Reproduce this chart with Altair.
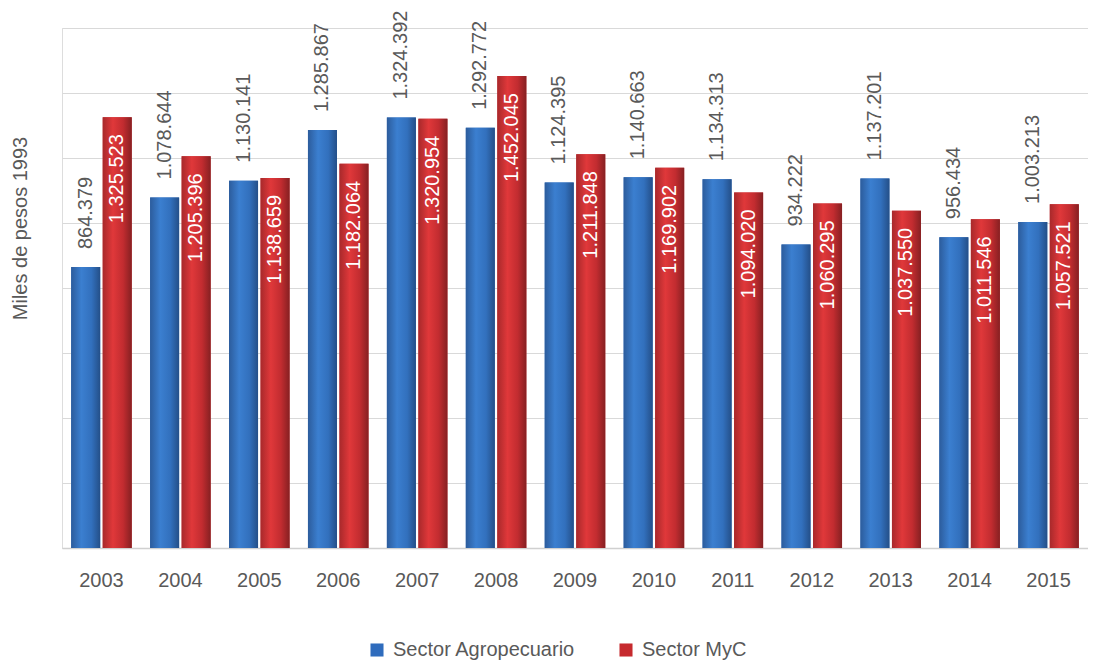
import altair as alt
import pandas as pd

years = ["2003", "2004", "2005", "2006", "2007", "2008", "2009", "2010", "2011", "2012", "2013", "2014", "2015"]
agro = [864379, 1078644, 1130141, 1285867, 1324392, 1292772, 1124395, 1140663, 1134313, 934222, 1137201, 956434, 1003213]
myc = [1325523, 1205396, 1138659, 1182064, 1320954, 1452045, 1211848, 1169902, 1094020, 1060295, 1037550, 1011546, 1057521]
series_names = ["Sector Agropecuario", "Sector MyC"]

def fmt(v):
    return f"{v:,}".replace(",", ".")

rows = []
for y, a, m in zip(years, agro, myc):
    rows.append({"year": y, "series": series_names[0], "value": a, "label": fmt(a)})
    rows.append({"year": y, "series": series_names[1], "value": m, "label": fmt(m)})
df = pd.DataFrame(rows)

FONT = "Liberation Sans, Arial, sans-serif"
GRAY = "#595959"
FS = 20

x_enc = alt.X("year:N", sort=years,
              scale=alt.Scale(paddingInner=0.233, paddingOuter=0.1165),
              axis=alt.Axis(title=None, labelAngle=0, labelFontSize=FS, labelColor=GRAY,
                            labelFont=FONT, labelPadding=22, ticks=False, grid=False,
                            domainColor="#d0d0d0", domainWidth=1.5))
xo_enc = alt.XOffset("series:N", sort=series_names, scale=alt.Scale(paddingInner=0.08))
y_enc = alt.Y("value:Q", scale=alt.Scale(domain=[0, 1600000], nice=False),
              axis=alt.Axis(title="Miles de pesos 1993", values=list(range(0, 1600001, 200000)),
                            labels=False, ticks=False, domain=False,
                            gridColor="#d9d9d9", gridWidth=1,
                            titleFontSize=FS, titleColor=GRAY, titleFont=FONT,
                            titleFontWeight="normal", titleX=-42, titleY=200,
                            titleAlign="center", titleBaseline="middle"))

base = alt.Chart(df)

legend_bars = base.mark_bar().encode(
    x=x_enc, xOffset=xo_enc, y=y_enc,
    color=alt.Color("series:N", sort=series_names,
                    scale=alt.Scale(domain=series_names, range=["#2f6cbd", "#c62a2e"]),
                    legend=alt.Legend(title=None, orient="none", direction="horizontal",
                                      legendX=305, legendY=612, symbolType="square",
                                      symbolSize=170, symbolStrokeWidth=0,
                                      labelFontSize=FS, labelColor=GRAY, labelFont=FONT,
                                      labelLimit=0, labelOffset=6, columnPadding=40))
)

blue_grad = alt.Gradient(gradient="linear", x1=0, x2=1, y1=0, y2=0,
                         stops=[alt.GradientStop(offset=0, color="#2c5c9c"),
                                alt.GradientStop(offset=0.35, color="#3b7fd0"),
                                alt.GradientStop(offset=0.7, color="#3270bd"),
                                alt.GradientStop(offset=1, color="#244f88")])
red_grad = alt.Gradient(gradient="linear", x1=0, x2=1, y1=0, y2=0,
                        stops=[alt.GradientStop(offset=0, color="#a8292b"),
                               alt.GradientStop(offset=0.35, color="#e0383a"),
                               alt.GradientStop(offset=0.7, color="#c22c30"),
                               alt.GradientStop(offset=1, color="#862022")])

blue_bars = base.transform_filter(alt.datum.series == series_names[0]).mark_bar(fill=blue_grad).encode(
    x=x_enc, xOffset=xo_enc, y=y_enc)
red_bars = base.transform_filter(alt.datum.series == series_names[1]).mark_bar(fill=red_grad).encode(
    x=x_enc, xOffset=xo_enc, y=y_enc)

blue_text = base.transform_filter(alt.datum.series == series_names[0]).mark_text(
    angle=270, align="left", baseline="middle", dx=18, fontSize=FS, font=FONT, color=GRAY
).encode(x=x_enc, xOffset=xo_enc, y=y_enc, text="label:N")
red_text = base.transform_filter(alt.datum.series == series_names[1]).mark_text(
    angle=270, align="right", baseline="middle", dx=-17, fontSize=FS, font=FONT, color="white"
).encode(x=x_enc, xOffset=xo_enc, y=y_enc, text="label:N")

chart = alt.layer(legend_bars, blue_bars, red_bars, blue_text, red_text).properties(
    width=1026, height=520,
    autosize=alt.AutoSizeParams(type="none"),
    padding={"left": 54, "top": 20, "right": 0, "bottom": 114},
).configure_view(stroke="transparent").configure_axisY(domain=False).configure(background="white")

chart.save("out.html", embed_options={"renderer": "svg", "actions": False})
